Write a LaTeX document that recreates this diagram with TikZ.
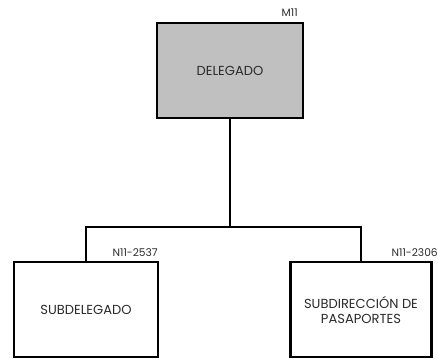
\documentclass[tikz,border=0pt]{standalone}
\usepackage{fontspec}
\setmainfont{Poppins}
\usetikzlibrary{positioning}
\definecolor{cajagris}{HTML}{C0C0C0}
\definecolor{texto}{HTML}{2B2B2B}
\tikzset{
  puesto/.style={rectangle, draw=black, line width=1.6pt, fill=#1, align=center,
                 font=\fontsize{9.8}{11.25}\selectfont, text=texto, inner sep=0pt, minimum height=71.25pt},
  clave/.style={font=\fontsize{8}{9}\selectfont, text=texto, inner sep=0pt, anchor=east},
  rama/.style={line width=1.6pt, draw=black},
}
\begin{document}
\begin{tikzpicture}[x=0.75pt, y=-0.75pt]
  \useasboundingbox (0,0) rectangle (438,359);
  \node[puesto=cajagris, minimum width=109.5pt] (del) at (230,70.5) {DELEGADO};
  \node[puesto=white, minimum width=108pt] (sub) at (86,309.5) {SUBDELEGADO};
  \node[puesto=white, minimum width=105.75pt] (pas) at (361,309.5) {SUBDIRECCIÓN DE\\PASAPORTES};
  \node[clave] (cdel) at (298,13) {M11};
  \node[clave] (csub) at (158,253) {N11-2537};
  \node[clave] (cpas) at (438,253) {N11-2306};
  \coordinate (nudo) at (230,227);
  \draw[rama] (del.south) -- (nudo);
  \draw[rama] (sub.north) |- (nudo) -| (pas.north);
\end{tikzpicture}
\end{document}
